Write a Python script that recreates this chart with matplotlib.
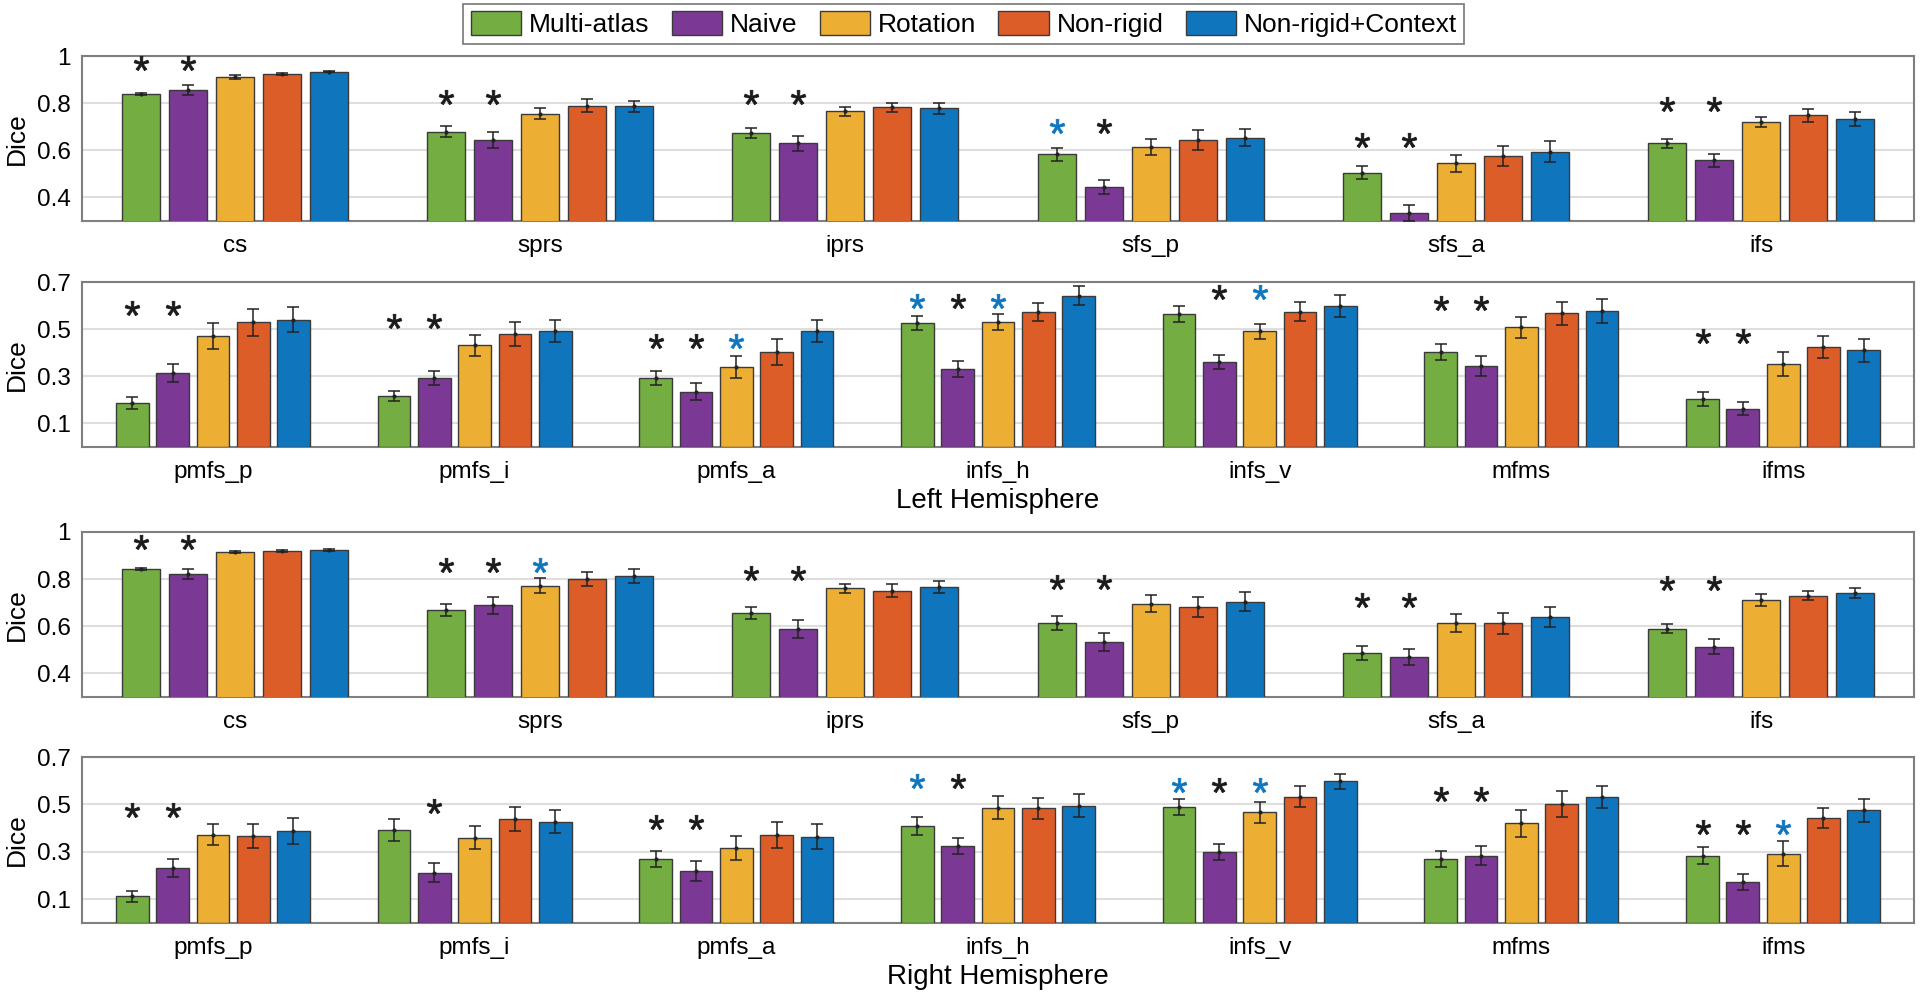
import numpy as np
import matplotlib
matplotlib.use('Agg')
import matplotlib.pyplot as plt

plt.rcParams['font.family'] = ['Liberation Sans', 'DejaVu Sans']
plt.rcParams['mathtext.fontset'] = 'custom'
plt.rcParams['mathtext.rm'] = 'Liberation Sans'
plt.rcParams['mathtext.it'] = 'Liberation Sans'

# methods and colours
methods = ['Multi-atlas', 'Naive', 'Rotation', 'Non-rigid', 'Non-rigid+Context']
colors  = ['#74AE42', '#7B3995', '#ECAF33', '#DD5D29', '#0F76BD']
star_colors = {'k': '#1a1a1a', 'b': '#0F76BD'}

# ---- left hemisphere, top row
lt_cats = ['cs', 'sprs', 'iprs', 'sfs_p', 'sfs_a', 'ifs']
lt_mean = [[0.837, 0.679, 0.673, 0.583, 0.505, 0.630],
           [0.856, 0.644, 0.630, 0.444, 0.335, 0.557],
           [0.911, 0.755, 0.765, 0.613, 0.545, 0.720],
           [0.924, 0.789, 0.782, 0.644, 0.576, 0.748],
           [0.934, 0.786, 0.778, 0.653, 0.594, 0.733]]
lt_err  = [[0.004, 0.023, 0.021, 0.028, 0.028, 0.020],
           [0.020, 0.035, 0.032, 0.030, 0.033, 0.028],
           [0.008, 0.023, 0.018, 0.035, 0.037, 0.023],
           [0.005, 0.027, 0.018, 0.041, 0.043, 0.026],
           [0.002, 0.024, 0.023, 0.036, 0.045, 0.030]]
lt_star_y = [0.969, 0.825, 0.827, 0.703, 0.644, 0.795]
lt_stars  = ['kk', 'kk', 'kk', 'bk', 'kk', 'kk']

# ---- left hemisphere, bottom row
lb_cats = ['pmfs_p', 'pmfs_i', 'pmfs_a', 'infs_h', 'infs_v', 'mfms', 'ifms']
lb_mean = [[0.188, 0.218, 0.292, 0.525, 0.563, 0.403, 0.205],
           [0.313, 0.293, 0.235, 0.331, 0.361, 0.344, 0.162],
           [0.471, 0.431, 0.339, 0.532, 0.491, 0.508, 0.353],
           [0.529, 0.479, 0.404, 0.574, 0.574, 0.567, 0.424],
           [0.540, 0.493, 0.493, 0.642, 0.598, 0.578, 0.411]]
lb_err  = [[0.026, 0.021, 0.031, 0.030, 0.034, 0.034, 0.030],
           [0.039, 0.031, 0.037, 0.034, 0.030, 0.042, 0.027],
           [0.054, 0.045, 0.045, 0.034, 0.031, 0.044, 0.052],
           [0.057, 0.050, 0.054, 0.039, 0.041, 0.049, 0.047],
           [0.052, 0.047, 0.047, 0.040, 0.046, 0.050, 0.049]]
lb_star_y = [0.588, 0.536, 0.449, 0.619, 0.657, 0.610, 0.471]
lb_stars  = ['kk', 'kk', 'kkb', 'bkb', '-kb', 'kk', 'kk']

# ---- right hemisphere, top row
rt_cats = ['cs', 'sprs', 'iprs', 'sfs_p', 'sfs_a', 'ifs']
rt_mean = [[0.844, 0.669, 0.656, 0.613, 0.488, 0.590],
           [0.823, 0.689, 0.588, 0.533, 0.470, 0.513],
           [0.915, 0.772, 0.761, 0.696, 0.614, 0.710],
           [0.921, 0.799, 0.751, 0.683, 0.613, 0.730],
           [0.924, 0.812, 0.767, 0.704, 0.639, 0.740]]
rt_err  = [[0.005, 0.026, 0.025, 0.030, 0.030, 0.020],
           [0.021, 0.035, 0.037, 0.039, 0.035, 0.031],
           [0.003, 0.031, 0.020, 0.037, 0.039, 0.025],
           [0.004, 0.030, 0.027, 0.042, 0.045, 0.018],
           [0.003, 0.030, 0.027, 0.041, 0.042, 0.022]]
rt_star_y = [0.959, 0.860, 0.825, 0.787, 0.712, 0.782]
rt_stars  = ['kk', 'kkb', 'kk', 'kk', 'kk', 'kk']

# ---- right hemisphere, bottom row
rb_cats = ['pmfs_p', 'pmfs_i', 'pmfs_a', 'infs_h', 'infs_v', 'mfms', 'ifms']
rb_mean = [[0.112, 0.392, 0.270, 0.408, 0.491, 0.271, 0.284],
           [0.230, 0.211, 0.220, 0.324, 0.300, 0.284, 0.172],
           [0.372, 0.360, 0.316, 0.487, 0.467, 0.420, 0.292],
           [0.368, 0.439, 0.371, 0.484, 0.533, 0.502, 0.443],
           [0.388, 0.428, 0.364, 0.495, 0.597, 0.532, 0.475]]
rb_err  = [[0.024, 0.045, 0.035, 0.038, 0.034, 0.033, 0.035],
           [0.038, 0.040, 0.041, 0.035, 0.033, 0.041, 0.033],
           [0.044, 0.048, 0.049, 0.047, 0.044, 0.058, 0.052],
           [0.051, 0.050, 0.055, 0.045, 0.044, 0.054, 0.044],
           [0.054, 0.048, 0.054, 0.048, 0.030, 0.047, 0.049]]
rb_star_y = [0.475, 0.492, 0.428, 0.600, 0.583, 0.546, 0.405]
rb_stars  = ['kk', '-k', 'kk', 'bk', 'bkb', 'kk', 'kkb']

top_ylim = (0.3, 1.0)
top_ticks = [0.4, 0.6, 0.8, 1.0]
top_labels = ['0.4', '0.6', '0.8', '1']
bot_ylim = (0.0, 0.7)
bot_ticks = [0.1, 0.3, 0.5, 0.7]
bot_labels = ['0.1', '0.3', '0.5', '0.7']


def draw_panel(ax, cats, means, errs, star_y, stars, ylim, ticks, labels):
    n = len(cats)
    x = np.arange(n)
    offs = (np.arange(5) - 2) * 0.154
    for k in range(5):
        ax.bar(x + offs[k], means[k], width=0.125, bottom=0, color=colors[k],
               edgecolor='#3a3a3a', linewidth=1.0, label=methods[k], zorder=3)
        ax.errorbar(x + offs[k], means[k], yerr=errs[k], fmt='.', color='#222222',
                    markersize=4, capsize=4.5, elinewidth=1.1, capthick=1.1, zorder=4)
    # significance stars
    for i in range(n):
        for j, c in enumerate(stars[i]):
            if c == '-':
                continue
            ax.plot(x[i] + offs[j], star_y[i], linestyle='none', marker='$*$',
                    markersize=10.5, markeredgewidth=0.6, color=star_colors[c], zorder=5)
    ax.set_xlim(-0.5, n - 0.5)
    ax.set_ylim(ylim)
    ax.set_xticks(x)
    ax.set_xticklabels(cats, fontsize=17.5)
    ax.set_yticks(ticks)
    ax.set_yticklabels(labels, fontsize=17.5)
    ax.set_yticks(np.arange(ylim[0] + 0.1, ylim[1], 0.2), minor=True)
    ax.tick_params(axis='both', which='both', length=0)
    ax.tick_params(axis='x', pad=10)
    ax.tick_params(axis='y', pad=8)
    ax.grid(True, axis='y', which='both', color='#dedede', linewidth=1.5, zorder=0)
    ax.set_axisbelow(True)
    for s in ax.spines.values():
        s.set_color('#7f7f7f')
        s.set_linewidth(1.5)
    ax.set_ylabel('Dice', fontsize=19, labelpad=6)


fig = plt.figure(figsize=(19.2, 9.99), dpi=100)
left  = 82 / 1920
width = (1914 - 82) / 1920
ax1 = fig.add_axes([left, 1 - 221 / 999, width, 165 / 999])
ax2 = fig.add_axes([left, 1 - 447 / 999, width, 165 / 999])
ax3 = fig.add_axes([left, 1 - 697 / 999, width, 165 / 999])
ax4 = fig.add_axes([left, 1 - 923 / 999, width, 166 / 999])

draw_panel(ax1, lt_cats, lt_mean, lt_err, lt_star_y, lt_stars, top_ylim, top_ticks, top_labels)
draw_panel(ax2, lb_cats, lb_mean, lb_err, lb_star_y, lb_stars, bot_ylim, bot_ticks, bot_labels)
draw_panel(ax3, rt_cats, rt_mean, rt_err, rt_star_y, rt_stars, top_ylim, top_ticks, top_labels)
draw_panel(ax4, rb_cats, rb_mean, rb_err, rb_star_y, rb_stars, bot_ylim, bot_ticks, bot_labels)

ax2.set_xlabel('Left Hemisphere', fontsize=20, labelpad=4)
ax4.set_xlabel('Right Hemisphere', fontsize=20, labelpad=4)

# shared legend on top
handles, labels = ax1.get_legend_handles_labels()
leg = fig.legend(handles, labels, loc='center', bbox_to_anchor=(0.502, 0.976), ncol=5,
                 fontsize=19, frameon=True, fancybox=False, edgecolor='#555555',
                 handlelength=1.9, handleheight=1.0, handletextpad=0.3,
                 columnspacing=0.85, borderpad=0.28, borderaxespad=0)
leg.get_frame().set_linewidth(1.2)

fig.savefig('out.png', dpi=100)
